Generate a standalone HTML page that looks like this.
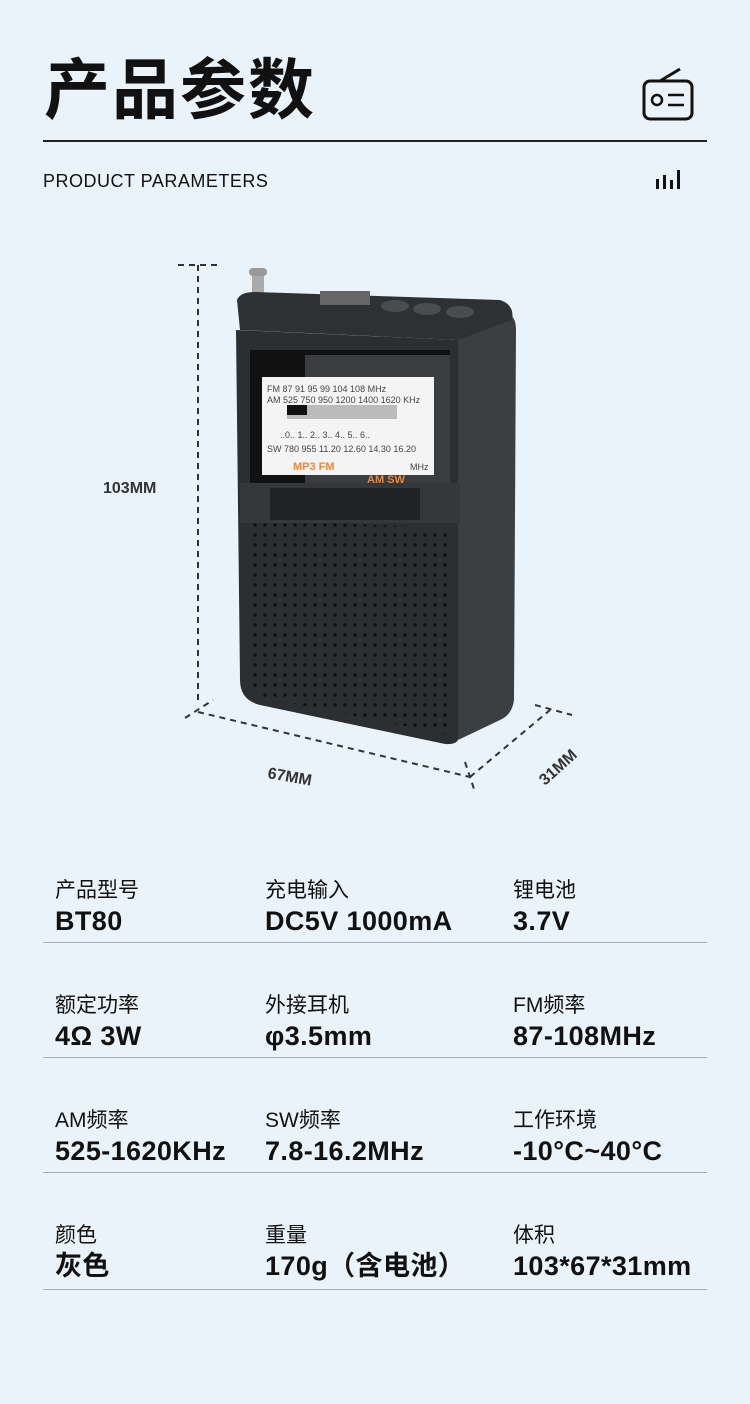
<!DOCTYPE html>
<html><head><meta charset="utf-8"><style>
body{margin:0;width:750px;height:1404px;background:#eaf3f9;position:relative;overflow:hidden;font-family:"Liberation Sans","Noto Sans CJK SC",sans-serif;color:#111}
.a{position:absolute}
.t{font-size:66px;font-weight:bold;left:44px;top:50px;letter-spacing:2px;line-height:80px}
.lab{font-size:21px;line-height:24px}
.val{font-size:27px;font-weight:bold;line-height:30px;letter-spacing:0.4px}
.hr{left:43px;width:664px;height:1px;background:#a9b0b6}
</style></head><body>
<div class="a t">产品参数</div>
<div class="a" style="left:43px;top:140px;width:664px;height:2px;background:#222"></div>
<div class="a" style="left:43px;top:171px;font-size:18px;letter-spacing:0.5px">PRODUCT PARAMETERS</div>
<svg class="a" style="left:640px;top:66px" width="56" height="56" viewBox="0 0 56 56"><rect x="4" y="15" width="48" height="38" rx="6" fill="none" stroke="#111" stroke-width="3"/><line x1="20" y1="15" x2="40" y2="3" stroke="#111" stroke-width="3"/><circle cx="17" cy="34" r="5" fill="none" stroke="#111" stroke-width="2.5"/><line x1="28" y1="29" x2="44" y2="29" stroke="#111" stroke-width="2.5"/><line x1="28" y1="39" x2="44" y2="39" stroke="#111" stroke-width="2.5"/></svg>
<svg class="a" style="left:654px;top:168px" width="30" height="22"><rect x="2" y="11" width="3" height="10" fill="#111"/><rect x="9" y="7" width="3" height="14" fill="#111"/><rect x="16" y="12" width="3" height="9" fill="#111"/><rect x="23" y="2" width="3" height="19" fill="#111"/></svg>

<svg class="a" style="left:0;top:250px" width="750" height="560" viewBox="0 250 750 560">
<g stroke="#333" stroke-width="2" stroke-dasharray="6,5" fill="none">
<line x1="178" y1="265" x2="218" y2="265"/><line x1="198" y1="265" x2="198" y2="705"/>
<line x1="185" y1="718" x2="213" y2="700"/><line x1="198" y1="712" x2="470" y2="777"/>
<line x1="470" y1="777" x2="550" y2="710"/><line x1="535" y1="705" x2="572" y2="715"/>
<line x1="465" y1="762" x2="475" y2="792"/>
</g>
<text x="267" y="778" font-size="16" font-weight="bold" fill="#333" transform="rotate(10 267 778)" font-family="Liberation Sans">67MM</text>
<text x="545" y="786" font-size="16" font-weight="bold" fill="#333" transform="rotate(-42 545 786)" font-family="Liberation Sans">31MM</text>
<rect x="249" y="268" width="18" height="8" rx="4" fill="#999"/><rect x="252" y="276" width="12" height="22" fill="#aaa"/>
<path d="M455 335 L510 315 Q516 318 516 330 L514 700 Q512 715 500 720 L458 740 Z" fill="#3c3f42"/>
<path d="M237 300 Q240 292 255 292 L500 300 Q515 305 512 320 L458 340 L240 330 Z" fill="#2e3134"/>
<rect x="320" y="291" width="50" height="14" fill="#666"/>
<ellipse cx="395" cy="306" rx="14" ry="6" fill="#4a4d50"/><ellipse cx="427" cy="309" rx="14" ry="6" fill="#4a4d50"/><ellipse cx="460" cy="312" rx="14" ry="6" fill="#4a4d50"/>
<path d="M236 330 L458 340 L458 740 Q455 745 445 744 L260 705 Q240 700 240 680 Z" fill="#2c2f32"/>
<rect x="250" y="350" width="200" height="140" fill="#111"/>
<rect x="305" y="355" width="145" height="135" fill="#3a3d40"/>
<rect x="262" y="377" width="172" height="98" fill="#f4f4f4"/>
<g font-family="Liberation Sans" font-size="9" fill="#444">
<text x="267" y="392">FM  87   91   95   99  104  108  MHz</text>
<text x="267" y="403">AM 525 750 950 1200 1400 1620 KHz</text>
<text x="280" y="438">..0.. 1.. 2.. 3.. 4.. 5.. 6..</text>
<text x="267" y="452">SW 780 955 11.20 12.60 14.30 16.20</text>
<text x="410" y="470">MHz</text>
</g>
<rect x="287" y="405" width="110" height="14" fill="#bbb"/><rect x="287" y="405" width="20" height="10" fill="#111"/>
<g font-family="Liberation Sans" font-size="11" font-weight="bold" fill="#e8883a"><text x="293" y="470">MP3 FM</text><text x="367" y="483">AM SW</text></g>
<rect x="240" y="483" width="220" height="40" fill="#35383b"/>
<rect x="270" y="488" width="150" height="32" fill="#202326"/>
<pattern id="d" width="10" height="10" patternUnits="userSpaceOnUse"><circle cx="5" cy="5" r="1.7" fill="#0d0f10"/></pattern>
<path d="M250 520 L450 528 L450 735 L260 697 Q250 692 250 680 Z" fill="url(#d)"/>
</svg>

<div class="a lab" style="left:55px;top:879px">产品型号</div><div class="a val" style="left:55px;top:906px">BT80</div>
<div class="a lab" style="left:265px;top:879px">充电输入</div><div class="a val" style="left:265px;top:906px">DC5V 1000mA</div>
<div class="a lab" style="left:513px;top:879px">锂电池</div><div class="a val" style="left:513px;top:906px">3.7V</div>
<div class="a hr" style="top:942px"></div>
<div class="a lab" style="left:55px;top:994px">额定功率</div><div class="a val" style="left:55px;top:1021px">4Ω 3W</div>
<div class="a lab" style="left:265px;top:994px">外接耳机</div><div class="a val" style="left:265px;top:1021px">φ3.5mm</div>
<div class="a lab" style="left:513px;top:994px">FM频率</div><div class="a val" style="left:513px;top:1021px">87-108MHz</div>
<div class="a hr" style="top:1057px"></div>
<div class="a lab" style="left:55px;top:1109px">AM频率</div><div class="a val" style="left:55px;top:1136px">525-1620KHz</div>
<div class="a lab" style="left:265px;top:1109px">SW频率</div><div class="a val" style="left:265px;top:1136px">7.8-16.2MHz</div>
<div class="a lab" style="left:513px;top:1109px">工作环境</div><div class="a val" style="left:513px;top:1136px">-10°C~40°C</div>
<div class="a hr" style="top:1172px"></div>
<div class="a lab" style="left:55px;top:1224px">颜色</div><div class="a val" style="left:55px;top:1251px">灰色</div>
<div class="a lab" style="left:265px;top:1224px">重量</div><div class="a val" style="left:265px;top:1251px">170g（含电池）</div>
<div class="a lab" style="left:513px;top:1224px">体积</div><div class="a val" style="left:513px;top:1251px">103*67*31mm</div>
<div class="a hr" style="top:1289px"></div>
<div class="a" style="left:103px;top:480px;font-size:16px;font-weight:bold;color:#333">103MM</div>
</body></html>
